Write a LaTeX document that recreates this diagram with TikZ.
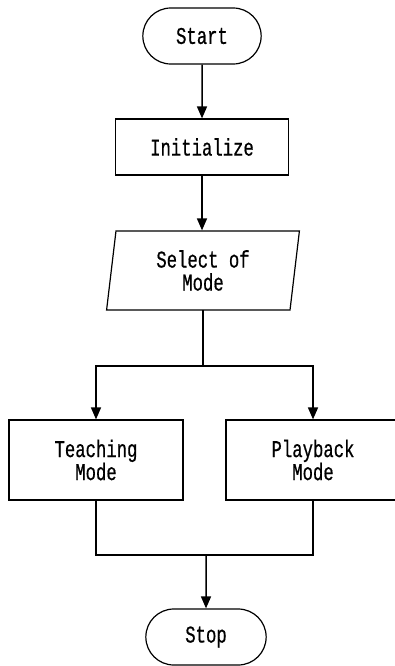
\documentclass[tikz,border=0pt]{standalone}
\usepackage{fontspec}
\usepackage{tikz}
\usetikzlibrary{positioning}
\usetikzlibrary{shapes.misc}
\usetikzlibrary{shapes.geometric}
\usetikzlibrary{arrows.meta}
\newfontfamily\flowfont[FakeStretch=0.72,FakeBold=0.6]{Liberation Mono}
\tikzset{
	box/.style={draw, line width=1.2pt, align=center, font=\flowfont\fontsize{24}{23}\selectfont},
	term/.style={box, rounded rectangle, minimum width=125pt, minimum height=56pt},
	proc/.style={box, rectangle, minimum width=174pt, minimum height=80pt},
	inout/.style={box, trapezium, trapezium left angle=83.5, trapezium right angle=96.5, trapezium stretches=true, minimum width=193pt, minimum height=79pt},
	flow/.style={line width=1.5pt, -{Triangle[width=10pt,length=12pt]}},
	joinline/.style={line width=1.3pt}
}
\begin{document}
\begin{tikzpicture}[x=1pt, y=-1pt]
			\useasboundingbox (0,0) rectangle (394,666);
			\node[term] (start) at (202,36) {Start};
			\node[proc, minimum width=173pt, minimum height=56pt] (init) at (202,147) {Initialize};
			\node[inout] (select) at (203,270.5) {Select of\\ Mode};
			\node[proc] (teach) at (96,460) {Teaching\\Mode};
			\node[proc] (play) at (313,460) {Playback\\Mode};
			\node[term, minimum width=127pt] (stop) at (206,637) {Stop};
			\coordinate (split) at (select.south |- 0,366);
			\coordinate (merge) at (stop.north |- 0,555);
			\draw[flow] (start) -- (init);
			\draw[flow] (init) -- (init.south |- select.north);
			\draw[joinline] (select.south |- 0,310) -- (split);
			\draw[flow] (split) -| (teach);
			\draw[flow] (split) -| (play);
			\draw[joinline] (teach) |- (merge);
			\draw[joinline] (play) |- (merge);
			\draw[flow] (merge) -- (stop);
\end{tikzpicture}
\end{document}
